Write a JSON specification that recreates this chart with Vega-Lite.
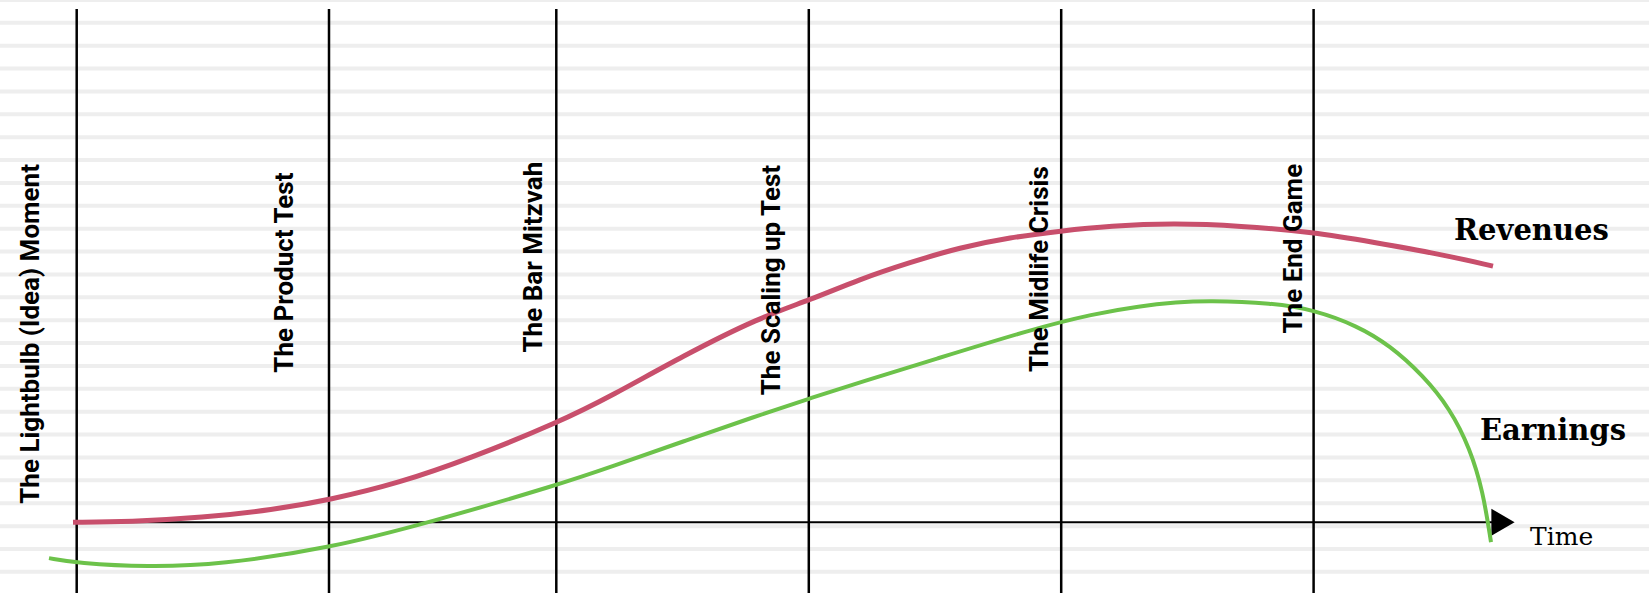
{
  "$schema": "https://vega.github.io/schema/vega-lite/v6.json",
  "width": 1649,
  "height": 595,
  "autosize": {"type": "fit", "contains": "padding"},
  "padding": 0,
  "background": "white",
  "config": {"view": {"stroke": null}},
  "datasets": {
    "stripes": [
      {"v": 524}, {"v": 501.1}, {"v": 478.1}, {"v": 455.2}, {"v": 432.2}, {"v": 409.3},
      {"v": 386.3}, {"v": 363.4}, {"v": 340.4}, {"v": 317.5}, {"v": 294.5}, {"v": 271.6},
      {"v": 248.6}, {"v": 225.7}, {"v": 202.7}, {"v": 179.8}, {"v": 156.8}, {"v": 133.9},
      {"v": 110.9}, {"v": 88}, {"v": 65}, {"v": 42.1}, {"v": 19.1}, {"v": -3.9},
      {"v": -26.8}, {"v": -49.8}
    ],
    "phases": [
      {"phase": "The Lightbulb (Idea) Moment", "t": 76.7, "label_t": 39.3, "label_v": 189},
      {"phase": "The Product Test", "t": 329, "label_t": 293.3, "label_v": 250.5},
      {"phase": "The Bar Mitzvah", "t": 556.3, "label_t": 541.7, "label_v": 266},
      {"phase": "The Scaling up Test", "t": 808.8, "label_t": 780, "label_v": 243},
      {"phase": "The Midlife Crisis", "t": 1061.2, "label_t": 1048.3, "label_v": 254},
      {"phase": "The End Game", "t": 1313.6, "label_t": 1301.7, "label_v": 274.5}
    ],
    "curves": [
      {"series": "Revenues", "t": 73, "v": 0},
      {"series": "Revenues", "t": 130, "v": 0.5},
      {"series": "Revenues", "t": 202, "v": 4.5},
      {"series": "Revenues", "t": 273, "v": 12.5},
      {"series": "Revenues", "t": 330, "v": 22.5},
      {"series": "Revenues", "t": 398, "v": 39},
      {"series": "Revenues", "t": 470, "v": 64},
      {"series": "Revenues", "t": 558, "v": 100},
      {"series": "Revenues", "t": 612, "v": 127},
      {"series": "Revenues", "t": 683, "v": 167},
      {"series": "Revenues", "t": 760, "v": 205.7},
      {"series": "Revenues", "t": 809, "v": 222.5},
      {"series": "Revenues", "t": 860, "v": 244},
      {"series": "Revenues", "t": 910, "v": 260.7},
      {"series": "Revenues", "t": 960, "v": 275.7},
      {"series": "Revenues", "t": 1010, "v": 285.7},
      {"series": "Revenues", "t": 1061, "v": 292.3},
      {"series": "Revenues", "t": 1110, "v": 297.3},
      {"series": "Revenues", "t": 1173, "v": 300},
      {"series": "Revenues", "t": 1240, "v": 297.5},
      {"series": "Revenues", "t": 1314, "v": 291},
      {"series": "Revenues", "t": 1373, "v": 281},
      {"series": "Revenues", "t": 1440, "v": 269},
      {"series": "Revenues", "t": 1493, "v": 257},
      {"series": "Earnings", "t": 49, "v": -36},
      {"series": "Earnings", "t": 77, "v": -41},
      {"series": "Earnings", "t": 148, "v": -45},
      {"series": "Earnings", "t": 220, "v": -42.5},
      {"series": "Earnings", "t": 330, "v": -26},
      {"series": "Earnings", "t": 430, "v": 0},
      {"series": "Earnings", "t": 558, "v": 37.5},
      {"series": "Earnings", "t": 612, "v": 56},
      {"series": "Earnings", "t": 683, "v": 81},
      {"series": "Earnings", "t": 755, "v": 106},
      {"series": "Earnings", "t": 809, "v": 124},
      {"series": "Earnings", "t": 862, "v": 141},
      {"series": "Earnings", "t": 933, "v": 163},
      {"series": "Earnings", "t": 1033, "v": 194},
      {"series": "Earnings", "t": 1093, "v": 209},
      {"series": "Earnings", "t": 1140, "v": 217},
      {"series": "Earnings", "t": 1177, "v": 220.7},
      {"series": "Earnings", "t": 1207, "v": 222.5},
      {"series": "Earnings", "t": 1273, "v": 220},
      {"series": "Earnings", "t": 1314, "v": 213},
      {"series": "Earnings", "t": 1357, "v": 197.3},
      {"series": "Earnings", "t": 1390, "v": 177.3},
      {"series": "Earnings", "t": 1423, "v": 147.3},
      {"series": "Earnings", "t": 1450, "v": 114},
      {"series": "Earnings", "t": 1470, "v": 74},
      {"series": "Earnings", "t": 1483, "v": 31},
      {"series": "Earnings", "t": 1491, "v": -20}
    ],
    "names": [
      {"name": "Revenues", "t": 1454, "v": 283.3},
      {"name": "Earnings", "t": 1480, "v": 82.3}
    ]
  },
  "layer": [
    {
      "data": {"name": "stripes"},
      "mark": {"type": "rule", "strokeWidth": 4, "color": "#eeeeee", "clip": true},
      "encoding": {
        "y": {"field": "v", "type": "quantitative", "scale": {"domain": [-71, 524], "nice": false, "zero": false}, "axis": null}
      }
    },
    {
      "data": {"name": "phases"},
      "mark": {"type": "rule", "strokeWidth": 2.5, "color": "#000000"},
      "encoding": {
        "x": {"field": "t", "type": "quantitative", "scale": {"domain": [0, 1649], "nice": false, "zero": false}, "axis": null},
        "y": {"datum": 515, "type": "quantitative"},
        "y2": {"datum": -71}
      }
    },
    {
      "data": {"values": [{}]},
      "mark": {"type": "rule", "strokeWidth": 2, "color": "#000000"},
      "encoding": {
        "x": {"datum": 73, "type": "quantitative"},
        "x2": {"datum": 1496},
        "y": {"datum": 0, "type": "quantitative"}
      }
    },
    {
      "data": {"values": [{}]},
      "mark": {"type": "point", "shape": "triangle-right", "filled": true, "color": "#000000", "size": 720, "opacity": 1},
      "encoding": {
        "x": {"datum": 1503, "type": "quantitative"},
        "y": {"datum": 0, "type": "quantitative"}
      }
    },
    {
      "data": {"name": "curves"},
      "mark": {"type": "line", "interpolate": "basis", "strokeCap": "butt"},
      "encoding": {
        "x": {"field": "t", "type": "quantitative"},
        "y": {"field": "v", "type": "quantitative"},
        "detail": {"field": "series"},
        "color": {"field": "series", "type": "nominal", "scale": {"domain": ["Revenues", "Earnings"], "range": ["#c84f6c", "#6cc24a"]}, "legend": null},
        "strokeWidth": {"field": "series", "type": "nominal", "scale": {"domain": ["Revenues", "Earnings"], "range": [5, 4]}, "legend": null}
      }
    },
    {
      "data": {"name": "phases"},
      "mark": {"type": "text", "angle": 270, "align": "center", "baseline": "alphabetic", "font": "Roboto", "fontWeight": "bold", "fontSize": 26, "color": "#000000"},
      "encoding": {
        "x": {"field": "label_t", "type": "quantitative"},
        "y": {"field": "label_v", "type": "quantitative"},
        "text": {"field": "phase"}
      }
    },
    {
      "data": {"name": "names"},
      "mark": {"type": "text", "align": "left", "baseline": "alphabetic", "font": "DejaVu Serif", "fontWeight": "bold", "fontSize": 29, "color": "#000000"},
      "encoding": {
        "x": {"field": "t", "type": "quantitative"},
        "y": {"field": "v", "type": "quantitative"},
        "text": {"field": "name"}
      }
    },
    {
      "data": {"values": [{"name": "Time", "t": 1530, "v": -22.7}]},
      "mark": {"type": "text", "align": "left", "baseline": "alphabetic", "font": "DejaVu Serif", "fontSize": 25, "color": "#000000"},
      "encoding": {
        "x": {"field": "t", "type": "quantitative"},
        "y": {"field": "v", "type": "quantitative"},
        "text": {"field": "name"}
      }
    }
  ]
}
